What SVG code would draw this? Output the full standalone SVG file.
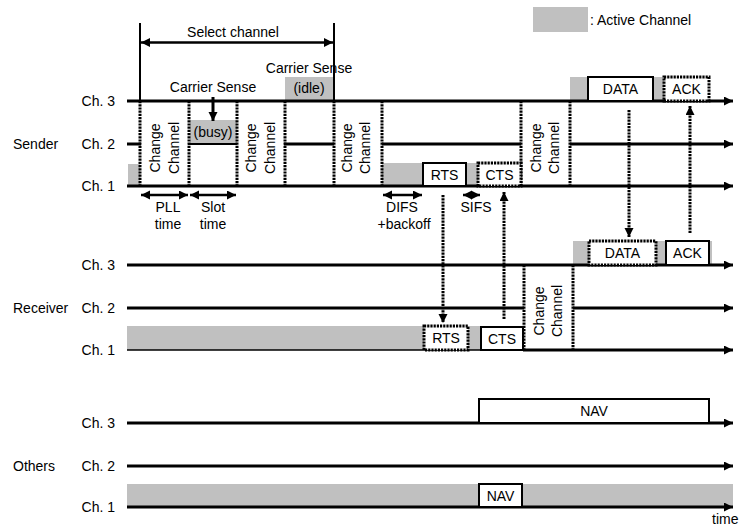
<svg xmlns="http://www.w3.org/2000/svg" width="741" height="527" viewBox="0 0 741 527">
<style>
text{font-family:"Liberation Sans",Arial,sans-serif;font-size:14px;fill:#000}
.m{text-anchor:middle}
.e{text-anchor:end}
.g{fill:#c0c0c0;stroke:none}
.ln{stroke:#000;stroke-width:3;fill:none}
.lt{stroke:#000;stroke-width:1.5;fill:none}
.ax{stroke:#000;stroke-width:3;fill:none;marker-end:url(#ah)}
.dv{stroke:#000;stroke-width:3;stroke-dasharray:2.2 1;fill:none}
.da{stroke:#000;stroke-width:3;stroke-dasharray:2.2 1;fill:none;marker-end:url(#ah)}
.sb{fill:#fff;stroke:#000;stroke-width:2}
.db{fill:#fff;stroke:#000;stroke-width:3;stroke-dasharray:2.2 1}
.dbl{stroke:#000;stroke-width:2.5;fill:none;marker-start:url(#ahs);marker-end:url(#ah)}
.sl{stroke:#000;stroke-width:2;fill:none}
</style>
<defs>
<marker id="ah" markerUnits="userSpaceOnUse" markerWidth="10" markerHeight="10" refX="9" refY="4.5" orient="auto"><path d="M0,0 L9,4.5 L0,9 z" fill="#000"/></marker>
<marker id="ahs" markerUnits="userSpaceOnUse" markerWidth="10" markerHeight="10" refX="9" refY="4.5" orient="auto-start-reverse"><path d="M0,0 L9,4.5 L0,9 z" fill="#000"/></marker>
</defs>

<g id="legend">
<rect class="g" x="533" y="7" width="55" height="25"/>
<text x="590" y="25">: Active Channel</text>
</g>

<g id="labels">
<text x="13" y="149">Sender</text>
<text x="13" y="313">Receiver</text>
<text x="13" y="471">Others</text>
<text class="e" x="115" y="106">Ch. 3</text>
<text class="e" x="115" y="149">Ch. 2</text>
<text class="e" x="115" y="191">Ch. 1</text>
<text class="e" x="115" y="270">Ch. 3</text>
<text class="e" x="115" y="313">Ch. 2</text>
<text class="e" x="115" y="355">Ch. 1</text>
<text class="e" x="115" y="428">Ch. 3</text>
<text class="e" x="115" y="471">Ch. 2</text>
<text class="e" x="115" y="512">Ch. 1</text>
<text x="712" y="524">time</text>
</g>

<g id="active">
<rect class="g" x="128" y="164" width="12" height="22"/>
<rect class="g" x="190" y="120" width="47" height="24"/>
<rect class="g" x="285" y="77" width="49" height="24"/>
<rect class="g" x="382" y="163" width="41" height="23"/>
<rect class="g" x="466" y="163" width="12" height="23"/>
<rect class="g" x="570" y="77" width="18" height="24"/>
<rect class="g" x="653" y="77" width="11" height="24"/>
<rect class="g" x="127" y="326" width="297" height="24"/>
<rect class="g" x="468" y="326" width="13" height="24"/>
<rect class="g" x="573" y="241" width="16" height="24"/>
<rect class="g" x="656" y="241" width="56" height="24"/>
<rect class="g" x="127" y="484" width="606" height="23"/>
</g>

<g id="connectors">
<line class="ax" x1="127" y1="101" x2="733" y2="101"/>
<line class="ln" x1="127" y1="144" x2="141" y2="144"/>
<line class="sl" x1="188" y1="144" x2="237" y2="144"/>
<line class="ln" x1="284" y1="144" x2="334" y2="144"/>
<line class="ln" x1="382" y1="144" x2="521" y2="144"/>
<line class="ax" x1="570" y1="144" x2="733" y2="144"/>
<line class="ax" x1="127" y1="186" x2="733" y2="186"/>
<line class="ax" x1="127" y1="265" x2="733" y2="265"/>
<line class="ln" x1="127" y1="308" x2="524" y2="308"/>
<line class="ax" x1="573" y1="308" x2="733" y2="308"/>
<line class="lt" x1="127" y1="350" x2="524" y2="350"/>
<line class="ax" x1="523" y1="350" x2="733" y2="350"/>
<line class="ax" x1="127" y1="423" x2="733" y2="423"/>
<line class="ax" x1="127" y1="466" x2="733" y2="466"/>
<line class="ax" x1="127" y1="507" x2="733" y2="507"/>

<line class="sl" x1="140" y1="23" x2="140" y2="101"/>
<line class="sl" x1="334" y1="23" x2="334" y2="101"/>
<line class="dbl" x1="141" y1="42.5" x2="333" y2="42.5"/>

<line class="dv" x1="140" y1="101" x2="140" y2="186"/>
<line class="dv" x1="189" y1="101" x2="189" y2="186"/>
<line class="dv" x1="237" y1="101" x2="237" y2="186"/>
<line class="dv" x1="285" y1="101" x2="285" y2="186"/>
<line class="dv" x1="334" y1="101" x2="334" y2="186"/>
<line class="dv" x1="382" y1="101" x2="382" y2="186"/>
<line class="dv" x1="521" y1="101" x2="521" y2="186"/>
<line class="dv" x1="570" y1="101" x2="570" y2="186"/>
<line class="dv" x1="524" y1="265" x2="524" y2="350"/>
<line class="dv" x1="573" y1="265" x2="573" y2="350"/>

<line class="ax" x1="213" y1="97" x2="213" y2="121"/>

<line class="dbl" x1="141" y1="195" x2="188" y2="195"/>
<line class="dbl" x1="190" y1="195" x2="236" y2="195"/>
<line class="dbl" x1="383" y1="195" x2="422" y2="195"/>
<line class="dbl" x1="463" y1="195" x2="480" y2="195"/>

<line class="da" x1="443" y1="195" x2="443" y2="323"/>
<line class="da" x1="504" y1="319" x2="504" y2="192"/>
<line class="da" x1="629" y1="110" x2="629" y2="237"/>
<line class="da" x1="690" y1="233" x2="690" y2="106"/>
</g>

<g id="sender-rts"><rect class="sb" x="423" y="163" width="43" height="23"/><text class="m" x="444.5" y="180">RTS</text></g>
<g id="sender-cts"><rect class="db" x="478" y="163" width="43" height="23"/><text class="m" x="499.5" y="180">CTS</text></g>
<g id="sender-data"><rect class="sb" x="588" y="77" width="65" height="24"/><text class="m" x="620.5" y="94">DATA</text></g>
<g id="sender-ack"><rect class="db" x="664" y="77" width="45" height="24"/><text class="m" x="686.5" y="94">ACK</text></g>

<g id="receiver-rts"><rect class="db" x="424" y="326" width="44" height="24"/><text class="m" x="446" y="343">RTS</text></g>
<g id="receiver-cts"><rect class="sb" x="481" y="327" width="42" height="23"/><text class="m" x="502" y="344">CTS</text></g>
<g id="receiver-data"><rect class="db" x="589" y="241" width="67" height="24"/><text class="m" x="622.5" y="258">DATA</text></g>
<g id="receiver-ack"><rect class="sb" x="666" y="241" width="43" height="24"/><text class="m" x="687.5" y="258">ACK</text></g>

<g id="others-nav3"><rect class="sb" x="479" y="399" width="230" height="24"/><text class="m" x="594" y="416">NAV</text></g>
<g id="others-nav1"><rect class="sb" x="479" y="484" width="43" height="23"/><text class="m" x="500.5" y="501">NAV</text></g>

<g id="annotations">
<text class="m" x="233" y="37">Select channel</text>
<text class="m" x="213" y="92">Carrier Sense</text>
<text class="m" x="309" y="73">Carrier Sense</text>
<text class="m" x="309" y="93">(idle)</text>
<text class="m" x="213" y="137">(busy)</text>
<text class="m" x="168" y="212">PLL</text>
<text class="m" x="168" y="229">time</text>
<text class="m" x="213" y="212">Slot</text>
<text class="m" x="213" y="229">time</text>
<text class="m" x="402" y="212">DIFS</text>
<text class="m" x="404" y="229">+backoff</text>
<text class="m" x="476" y="212">SIFS</text>
</g>

<g id="change-channel-1"><text class="m" transform="translate(155,148) rotate(-90)" y="5">Change</text><text class="m" transform="translate(174,148) rotate(-90)" y="5">Channel</text></g>
<g id="change-channel-2"><text class="m" transform="translate(251,148) rotate(-90)" y="5">Change</text><text class="m" transform="translate(270,148) rotate(-90)" y="5">Channel</text></g>
<g id="change-channel-3"><text class="m" transform="translate(347,148) rotate(-90)" y="5">Change</text><text class="m" transform="translate(365,148) rotate(-90)" y="5">Channel</text></g>
<g id="change-channel-4"><text class="m" transform="translate(536,148) rotate(-90)" y="5">Change</text><text class="m" transform="translate(554,148) rotate(-90)" y="5">Channel</text></g>
<g id="change-channel-5"><text class="m" transform="translate(539,311) rotate(-90)" y="5">Change</text><text class="m" transform="translate(557,311) rotate(-90)" y="5">Channel</text></g>
</svg>
